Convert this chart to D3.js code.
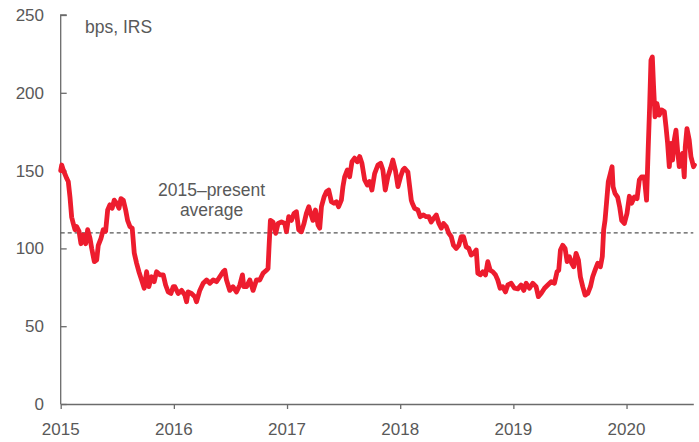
<!DOCTYPE html>
<html>
<head>
<meta charset="utf-8">
<script src="https://cdn.jsdelivr.net/npm/d3@7"></script>
<style>
  html, body { margin: 0; padding: 0; background: #fff; }
  svg { display: block; }
  text { font-family: "Liberation Sans", Arial, sans-serif; fill: #595959; }
</style>
</head>
<body>
<svg id="chart" width="699" height="442"></svg>
<script>
// Dates as decimal years, values in bps
const dates = [
  2015.000, 2015.009, 2015.023, 2015.053, 2015.067, 2015.082, 2015.097, 2015.111, 2015.126, 2015.141,
  2015.162, 2015.179, 2015.199, 2015.221, 2015.238, 2015.259, 2015.274, 2015.297, 2015.318, 2015.332,
  2015.356, 2015.376, 2015.397, 2015.415, 2015.435, 2015.455, 2015.473, 2015.494, 2015.515, 2015.532,
  2015.553, 2015.574, 2015.591, 2015.612, 2015.632, 2015.650, 2015.671, 2015.691, 2015.715, 2015.738,
  2015.759, 2015.779, 2015.803, 2015.826, 2015.847, 2015.876, 2015.906, 2015.927, 2015.950, 2015.974,
  2015.994, 2016.009, 2016.038, 2016.068, 2016.097, 2016.112, 2016.126, 2016.156, 2016.185, 2016.200,
  2016.229, 2016.259, 2016.289, 2016.318, 2016.347, 2016.377, 2016.406, 2016.435, 2016.450, 2016.465,
  2016.494, 2016.523, 2016.553, 2016.583, 2016.606, 2016.618, 2016.642, 2016.671, 2016.700, 2016.730,
  2016.759, 2016.788, 2016.818, 2016.832, 2016.841, 2016.853, 2016.876, 2016.900, 2016.921, 2016.951,
  2016.980, 2016.995, 2017.015, 2017.039, 2017.062, 2017.083, 2017.103, 2017.127, 2017.150, 2017.171,
  2017.192, 2017.209, 2017.229, 2017.251, 2017.274, 2017.289, 2017.304, 2017.327, 2017.348, 2017.368,
  2017.392, 2017.415, 2017.436, 2017.456, 2017.480, 2017.494, 2017.509, 2017.533, 2017.553, 2017.574,
  2017.597, 2017.621, 2017.642, 2017.662, 2017.686, 2017.710, 2017.730, 2017.750, 2017.774, 2017.803,
  2017.827, 2017.847, 2017.868, 2017.891, 2017.915, 2017.935, 2017.957, 2017.980, 2018.003, 2018.024,
  2018.039, 2018.068, 2018.083, 2018.098, 2018.107, 2018.127, 2018.156, 2018.177, 2018.206, 2018.230,
  2018.253, 2018.274, 2018.295, 2018.319, 2018.342, 2018.363, 2018.383, 2018.407, 2018.430, 2018.451,
  2018.471, 2018.495, 2018.518, 2018.539, 2018.560, 2018.583, 2018.606, 2018.627, 2018.648, 2018.672,
  2018.686, 2018.707, 2018.730, 2018.754, 2018.774, 2018.795, 2018.818, 2018.842, 2018.862, 2018.883,
  2018.906, 2018.930, 2018.951, 2018.981, 2019.010, 2019.039, 2019.068, 2019.092, 2019.113, 2019.142,
  2019.171, 2019.201, 2019.221, 2019.245, 2019.275, 2019.304, 2019.334, 2019.363, 2019.386, 2019.401,
  2019.416, 2019.436, 2019.457, 2019.475, 2019.495, 2019.515, 2019.533, 2019.554, 2019.575, 2019.592,
  2019.613, 2019.634, 2019.657, 2019.681, 2019.701, 2019.722, 2019.745, 2019.769, 2019.786, 2019.798,
  2019.810, 2019.824, 2019.839, 2019.857, 2019.872, 2019.881, 2019.898, 2019.921, 2019.939, 2019.957,
  2019.981, 2020.004, 2020.025, 2020.045, 2020.069, 2020.093, 2020.113, 2020.133, 2020.157, 2020.177,
  2020.192, 2020.204, 2020.216, 2020.228, 2020.239, 2020.252, 2020.269, 2020.289, 2020.310, 2020.334,
  2020.349, 2020.363, 2020.378, 2020.393, 2020.407, 2020.422, 2020.437, 2020.451, 2020.466, 2020.481,
  2020.495, 2020.510, 2020.519, 2020.534, 2020.554, 2020.569, 2020.592, 2020.600
];
const spread = [
  150.0, 153.6, 150.4, 145.0, 143.0, 133.0, 120.0, 116.0, 112.0, 114.0,
  111.0, 103.0, 108.6, 103.0, 112.0, 106.5, 100.0, 91.5, 92.5, 102.0,
  106.5, 112.0, 111.0, 124.7, 128.0, 125.8, 131.0, 129.0, 125.8, 132.0,
  131.0, 124.7, 118.0, 114.0, 113.0, 97.0, 90.4, 85.0, 79.7, 74.4,
  85.0, 75.4, 81.8, 78.6, 85.0, 83.0, 83.0, 76.5, 72.0, 71.0,
  75.4, 75.4, 71.0, 73.0, 70.0, 65.7, 72.0, 71.0, 69.0, 65.7,
  73.0, 77.6, 79.7, 77.6, 79.7, 78.6, 81.8, 85.0, 86.0, 79.7,
  73.0, 75.4, 72.0, 76.5, 83.0, 75.4, 75.4, 79.7, 73.0, 79.7,
  79.7, 84.0, 86.0, 87.0, 101.0, 118.0, 117.0, 109.7, 116.0, 117.0,
  116.0, 110.7, 120.4, 118.0, 122.5, 123.6, 112.0, 110.7, 116.0, 122.5,
  126.8, 122.5, 118.0, 124.7, 115.0, 113.0, 126.8, 133.0, 136.4, 137.5,
  130.0, 129.0, 130.0, 126.8, 131.0, 139.7, 146.0, 150.4, 146.0, 155.7,
  158.0, 155.7, 159.0, 154.7, 144.0, 140.7, 143.0, 137.5, 148.0, 153.6,
  154.7, 150.4, 137.5, 146.0, 151.5, 156.8, 150.4, 139.7, 146.0, 150.4,
  151.5, 149.0, 140.0, 131.0, 129.0, 125.8, 124.7, 120.4, 121.5, 120.4,
  120.4, 117.0, 119.3, 121.5, 116.0, 113.0, 116.0, 114.0, 109.7, 107.5,
  102.0, 100.0, 102.0, 107.5, 107.5, 101.0, 100.0, 95.8, 96.8, 99.0,
  84.0, 83.0, 85.0, 83.0, 91.5, 86.0, 85.0, 83.0, 79.7, 74.4,
  75.4, 72.0, 76.5, 77.6, 74.4, 74.0, 76.5, 73.0, 77.6, 74.4,
  77.6, 75.4, 69.0, 71.0, 74.4, 76.5, 78.6, 77.6, 85.0, 86.0,
  99.0, 102.0, 100.0, 91.5, 94.7, 90.4, 88.2, 96.8, 92.5, 81.8,
  75.4, 70.0, 71.0, 75.4, 81.8, 86.0, 90.4, 88.2, 94.7, 112.0,
  118.0, 130.0, 143.0, 148.0, 152.5, 139.7, 135.4, 133.0, 126.8, 118.0,
  116.0, 122.5, 133.5, 129.0, 133.0, 132.0, 144.0, 146.0, 146.0, 131.0,
  165.4, 191.0, 221.0, 223.0, 204.0, 184.6, 193.0, 185.7, 189.0, 188.0,
  178.0, 167.5, 152.5, 167.5, 156.8, 169.7, 176.0, 163.0, 152.5, 159.0,
  161.0, 146.0, 165.4, 177.0, 169.7, 159.0, 152.5, 153.6
];
const yTicks = [0, 50, 100, 150, 200, 250];
const xTicks = [2015, 2016, 2017, 2018, 2019, 2020];
const averageValue = 110;
const unitLabel = "bps, IRS";
const averageLabel = ["2015\u2013present", "average"];

const svg = d3.select("#chart");
const x = d3.scaleLinear().domain([2015, 2020.59]).range([60.7, 693.3]);
const y = d3.scaleLinear().domain([0, 250]).range([404, 15]);
const axisColor = "#6b6b6b";

// Y axis (ticks pointing inward)
const yAxis = d3.axisRight(y).tickValues(yTicks).tickSize(6).tickFormat("");
const gy = svg.append("g").attr("transform", `translate(${x(2015)},0)`).call(yAxis);
gy.selectAll("path, line").attr("stroke", axisColor).attr("stroke-width", 1.3);
gy.select(".domain").attr("d", `M6,${y(250)}H0V${y(0)}`);
svg.append("g").selectAll("text").data(yTicks).join("text")
  .attr("x", 44).attr("y", d => y(d)).attr("dy", "0.35em")
  .attr("text-anchor", "end").attr("font-size", 17).text(d => d);

// X axis (ticks pointing outward)
const xAxis = d3.axisBottom(x).tickValues(xTicks).tickSize(5).tickSizeOuter(0).tickFormat("");
const gx = svg.append("g").attr("transform", `translate(0,${y(0)})`).call(xAxis);
gx.selectAll("path, line").attr("stroke", axisColor).attr("stroke-width", 1.3);
svg.append("g").selectAll("text").data(xTicks).join("text")
  .attr("x", d => x(d)).attr("y", 435)
  .attr("text-anchor", "middle").attr("font-size", 17).text(d => d);

// Average dashed line
svg.append("line")
  .attr("x1", x(2015)).attr("x2", x(2020.59))
  .attr("y1", y(averageValue)).attr("y2", y(averageValue))
  .attr("stroke", "#555").attr("stroke-width", 1.2).attr("stroke-dasharray", "4,3");

// Series line
const pts = dates.map((d, i) => [d, spread[i]]);
svg.append("path").datum(pts)
  .attr("fill", "none").attr("stroke", "#ED1C2E").attr("stroke-width", 4.8)
  .attr("stroke-linejoin", "round").attr("stroke-linecap", "round")
  .attr("d", d3.line().x(d => x(d[0])).y(d => y(d[1])));

// Labels
svg.append("text").attr("x", 85).attr("y", 33).attr("font-size", 17.5).text(unitLabel);
svg.append("text").attr("text-anchor", "middle").attr("font-size", 17.5)
  .selectAll("tspan").data(averageLabel).join("tspan")
  .attr("x", 211.5).attr("y", (d, i) => 196 + i * 20).text(d => d);
</script>
</body>
</html>
